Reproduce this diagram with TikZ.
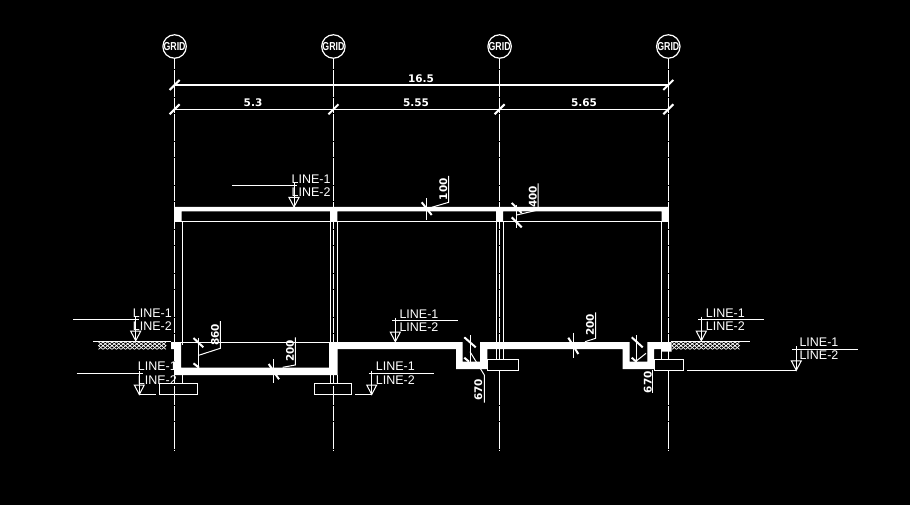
\documentclass[tikz,border=0pt]{standalone}
\usepackage{fontspec}
\setmainfont{Liberation Sans}
\newfontfamily\dimfont{DejaVu Sans}[Scale=1.0]
\newcommand{\gridtext}{\scalebox{0.8}[1.05]{\fontsize{11}{11}\selectfont\bfseries GRID}}
\tikzset{
  thinline/.style={draw=white,line width=1pt},
  axisline/.style={draw=white,line width=1pt,dash pattern=on 14.5pt off 1.5pt on 26.5pt off 1.5pt,dash phase=4.5pt},
  dimline/.style={draw=white,line width=1.2pt},
  tickline/.style={draw=white,line width=2pt},
  hatchline/.style={draw=white,line width=0.7pt},
  gridnode/.style={circle,draw=white,line width=1.2pt,minimum size=18pt,inner sep=0pt,text=white},
  dimtext/.style={text=white,inner sep=0pt,font=\dimfont\fontsize{10.5}{10.5}\selectfont\bfseries},
  leveltext/.style={text=white,inner sep=0pt,anchor=west,font=\fontsize{12.5}{12.5}\selectfont},
  wallfill/.style={fill=white,draw=none},
  footing/.style={draw=white,line width=1pt,fill=black}
}
\newcommand{\levelmark}[6]{
  \node[leveltext] (#1top) at (#4,#3-28) {LINE-1};
  \node[leveltext] (#1bot) at (#4,#3-14.7) {LINE-2};
  \coordinate (#1tip) at (#2,#3);
  \draw[thinline] (#5,#3-21.3) -- (#6,#3-21.3);
  \draw[thinline] (#2,#3-24) -- (#1tip);
  \draw[thinline] (#1tip) -- (#2-5,#3-9.5) -- (#2+5,#3-9.5) -- cycle;
}
\begin{document}
\begin{tikzpicture}[x=1pt,y=-1pt]
\fill[black] (0,0) rectangle (910,505);
\useasboundingbox (0,0) rectangle (910,505);

\foreach \n/\x in {1/174.6,2/333.4,3/499.6,4/668.3}{
  \node[gridnode] (grid\n) at (\x,46.5) {\gridtext};
  \coordinate (axis\n) at (\x,450.5);
  \draw[axisline] (grid\n) -- (axis\n);
}

\coordinate (top1) at (174.6,85);
\coordinate (top4) at (668.3,85);
\coordinate (row1) at (174.6,109.3);
\coordinate (row2) at (333.4,109.3);
\coordinate (row3) at (499.6,109.3);
\coordinate (row4) at (668.3,109.3);
\draw[dimline] (top1) -- (top4);
\draw[dimline] (row1) -- (row2) -- (row3) -- (row4);
\foreach \p in {top1,top4,row1,row2,row3,row4}{
  \draw[tickline] ([shift={(-5,5)}]\p) -- ([shift={(5,-5)}]\p);
}
\node[dimtext] (total) at (421,79) {16.5};
\node[dimtext] (span1) at (253,103) {5.3};
\node[dimtext] (span2) at (416,103) {5.55};
\node[dimtext] (span3) at (584,103) {5.65};

\draw[thinline] (174.6,222) -- (668,222);
\draw[thinline] (182,222) -- (182,345);
\draw[thinline] (330,222) -- (330,345);
\draw[thinline] (337.3,222) -- (337.3,345);
\draw[thinline] (496,222) -- (496,345);
\draw[thinline] (503,222) -- (503,345);
\draw[thinline] (661.7,222) -- (661.7,345);
\draw[thinline] (181,342) -- (329,342);

\draw[thinline] (182,375) -- (182,383.3);
\draw[thinline] (330,375) -- (330,383.3);
\draw[thinline] (337.3,375) -- (337.3,383.3);
\draw[thinline] (496,349) -- (496,359.3);
\draw[thinline] (503,349) -- (503,359.3);
\draw[thinline] (661.7,349) -- (661.7,359.3);

\draw[footing] (159,383.3) rectangle (197.7,394.7);
\draw[footing] (314.3,383.3) rectangle (351.7,394.7);
\draw[footing] (487.3,359.3) rectangle (518.7,370.7);
\draw[footing] (654,359.3) rectangle (683.7,370.7);
\foreach \x in {174.6,333.4,499.6,668.3}{
  \draw[thinline,dash pattern=on 9pt off 2pt] (\x,375) -- (\x,395);
}

\draw[thinline] (93,341) -- (171,341);
\draw[thinline] (671,341) -- (750,341);
\foreach \x in {98.5,103,...,165}{
  \draw[hatchline] (\x,342) -- ++(4.5,3.7) -- ++(-4.5,3.7);
  \draw[hatchline] (\x+4.5,342) -- ++(-4.5,3.7) -- ++(4.5,3.7);
}
\foreach \x in {672,676.5,...,735}{
  \draw[hatchline] (\x,342) -- ++(4.5,3.7) -- ++(-4.5,3.7);
  \draw[hatchline] (\x+4.5,342) -- ++(-4.5,3.7) -- ++(4.5,3.7);
}

\levelmark{roof}{294}{207}{291.5}{232}{297}
\levelmark{groundl}{135.7}{340.7}{132.7}{73.3}{138.5}
\levelmark{footl}{139.3}{394.5}{137.7}{76.7}{142.7}
\levelmark{floor}{395.3}{341.7}{399.3}{392.3}{457.7}
\levelmark{footm}{371.7}{394.5}{375.7}{368.7}{434}
\levelmark{groundr}{701.3}{340.7}{705.7}{698.3}{764}
\levelmark{footr}{796.3}{370.3}{799.3}{792.3}{858}
\draw[thinline] (footltip) -- (156,394.5);
\draw[thinline] (355,394.5) -- (footmtip);
\draw[thinline] (687.3,370.3) -- (footrtip);

\draw[thinline] (198.7,337.7) -- (198.7,367.7);
\draw[thinline] (198.7,355.3) -- (220.3,348.3) -- (220.3,321);
\draw[tickline] (193.5,338) -- (203.3,347.3);
\draw[tickline] (193.5,363.3) -- (199,367.7);
\node[dimtext,rotate=90] (deep) at (215,335) {860};

\draw[thinline] (273.3,359.3) -- (273.3,383.3);
\draw[thinline] (282.7,367.3) -- (295.3,365) -- (295.3,337.3);
\draw[tickline] (268.7,364) -- (279,379.3);
\node[dimtext,rotate=90] (slabl) at (290,351) {200};

\draw[thinline] (573.3,332.7) -- (573.3,357.7);
\draw[thinline] (585,341.7) -- (595.7,338.3) -- (595.7,312.3);
\draw[tickline] (568.3,337.7) -- (578.3,354);
\node[dimtext,rotate=90] (slabr) at (590,325) {200};

\draw[thinline] (426.3,198.3) -- (426.3,220);
\draw[thinline] (431.7,207.3) -- (448.7,202.3) -- (448.7,176);
\draw[tickline] (421.7,202.3) -- (431.7,215);
\node[dimtext,rotate=90] (roofd) at (443.3,189.3) {100};

\draw[thinline] (516.7,205) -- (516.7,228.3);
\draw[thinline] (516.7,215) -- (538,210) -- (538,183.3);
\draw[tickline] (511.7,203) -- (521.7,213);
\draw[tickline] (511.7,217.3) -- (521.7,227.3);
\node[dimtext,rotate=90] (haunch) at (532.7,196.7) {400};

\draw[thinline] (470,335) -- (470,361.7);
\draw[thinline] (470,351.7) -- (484.3,375) -- (484.3,402.7);
\draw[tickline] (464.3,337.3) -- (475.7,347.3);
\draw[tickline] (464.3,357.7) -- (469,361.7);
\node[dimtext,rotate=90] (trenchl) at (478.3,390) {670};

\draw[thinline] (636.7,335) -- (636.7,361.7);
\draw[thinline] (636.7,360.7) -- (646,353.3);
\draw[thinline] (652.3,370) -- (652.3,392.7);
\draw[tickline] (631.7,337.3) -- (642.7,347.3);
\draw[tickline] (631.7,357.7) -- (636.3,361.7);
\node[dimtext,rotate=90] (trenchr) at (647.7,382.3) {670};

\fill[wallfill] (174.6,206.8) -- (668,206.8) -- (668,222) -- (661.5,222) -- (661.5,211.5) -- (503,211.5) -- (503,222) -- (496,222) -- (496,211.5) -- (337.3,211.5) -- (337.3,222) -- (330,222) -- (330,211.5) -- (181.7,211.5) -- (181.7,222) -- (174.6,222) -- cycle;

\fill[wallfill] (171,342) -- (181,342) -- (181,367.7) -- (329,367.7) -- (329,342) -- (462.7,342) -- (462.7,361.7) -- (480,361.7) -- (480,342) -- (629.5,342) -- (629.5,361.7) -- (647.3,361.7) -- (647.3,342) -- (671.7,342) -- (671.7,351.7) -- (661.7,351.7) -- (661.7,349) -- (654,349) -- (654,369) -- (622.7,369) -- (622.7,349) -- (487.3,349) -- (487.3,369) -- (456,369) -- (456,349) -- (337.7,349) -- (337.7,375) -- (174.3,375) -- (174.3,349) -- (171,349) -- cycle;
\end{tikzpicture}
\end{document}
